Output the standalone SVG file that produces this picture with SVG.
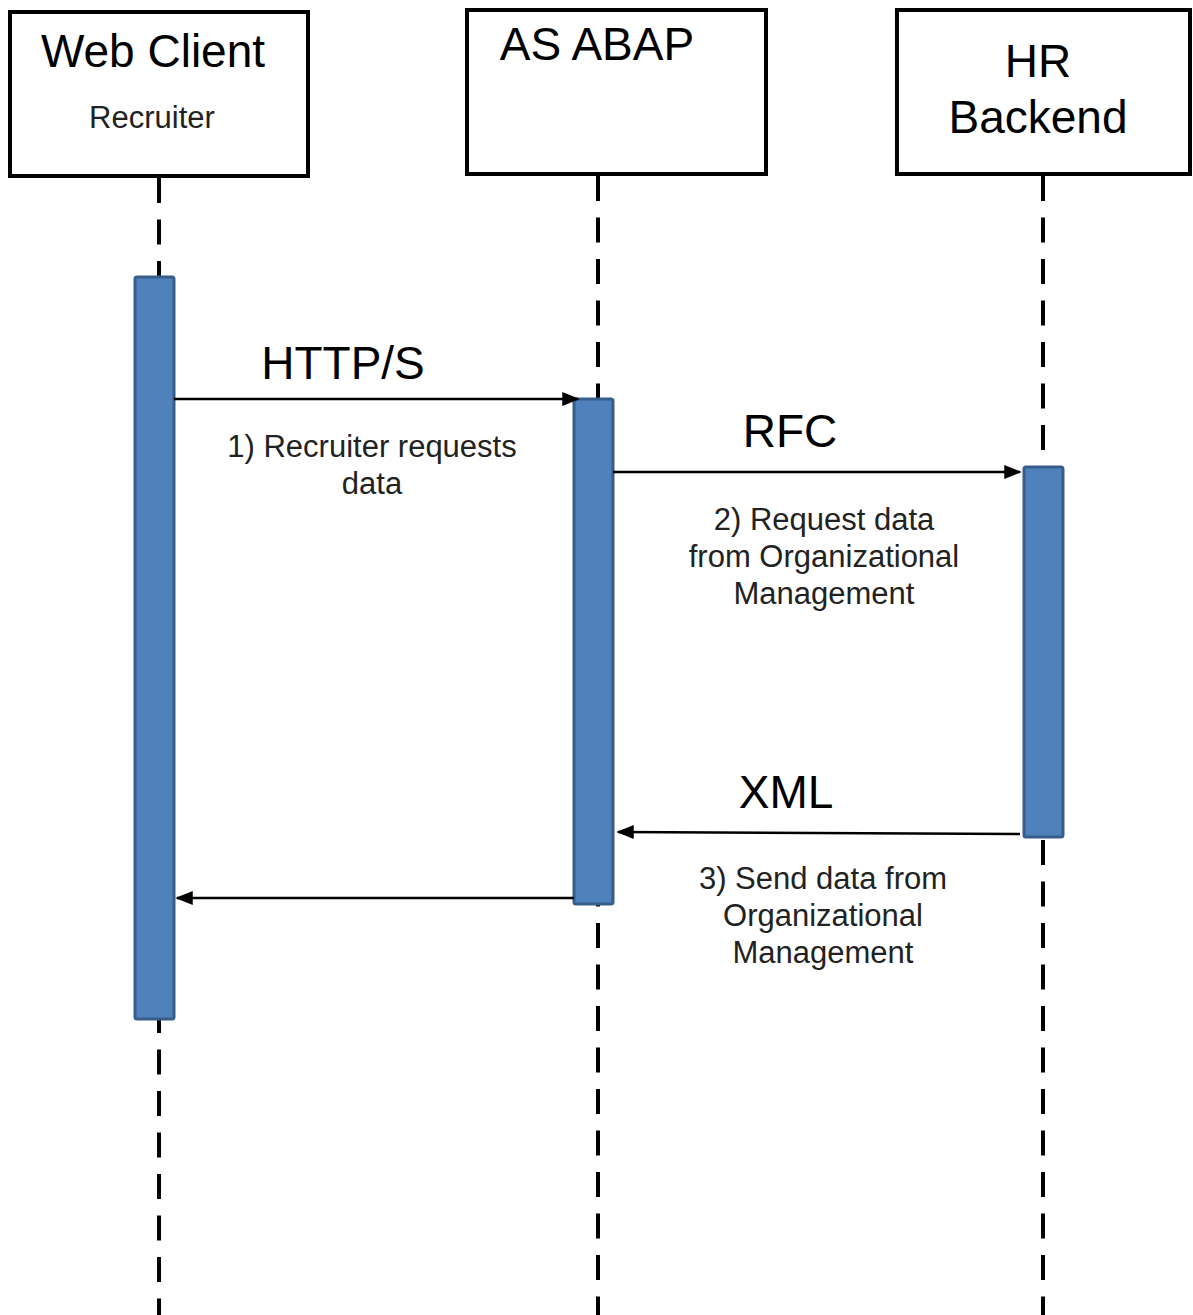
<svg xmlns="http://www.w3.org/2000/svg" width="1193" height="1315" viewBox="0 0 1193 1315">
<defs>
<style>
.box{fill:#fff;stroke:#000;stroke-width:4}
.life{stroke:#000;stroke-width:4;stroke-dasharray:25 16.5;fill:none}
.act{fill:#4F81BD;stroke:#385D8A;stroke-width:3}
.msg{stroke:#000;stroke-width:2.5;fill:none;marker-end:url(#ah)}
.big{font-family:"Liberation Sans",Arial,sans-serif;font-size:46px;fill:#000;text-anchor:middle}
.small{font-family:"Liberation Sans",Arial,sans-serif;font-size:31px;fill:#222;text-anchor:middle}
</style>
<marker id="ah" viewBox="0 0 10 10" refX="9" refY="5" markerWidth="7" markerHeight="7" orient="auto" markerUnits="strokeWidth">
<path d="M0,1 L10,5 L0,9 Z" fill="#000"/>
</marker>
</defs>
<rect width="1193" height="1315" fill="#fff"/>
<g id="lifelines">
<line class="life" x1="159" y1="178" x2="159" y2="1315"/>
<line class="life" x1="598" y1="176" x2="598" y2="1315"/>
<line class="life" x1="1043" y1="176" x2="1043" y2="1315"/>
</g>
<g id="web-client">
<rect class="box" x="10" y="12" width="298" height="164"/>
<text class="big" x="153" y="67">Web Client</text>
<text class="small" x="152" y="128">Recruiter</text>
</g>
<g id="as-abap">
<rect class="box" x="467" y="10" width="299" height="164"/>
<text class="big" x="597" y="60">AS ABAP</text>
</g>
<g id="hr-backend">
<rect class="box" x="897" y="10" width="293" height="164"/>
<text class="big" x="1038" y="77">HR</text>
<text class="big" x="1038" y="133">Backend</text>
</g>
<g id="activations">
<rect class="act" x="135" y="277" width="39" height="742" rx="2"/>
<rect class="act" x="574" y="399" width="39" height="505" rx="2"/>
<rect class="act" x="1024" y="467" width="39" height="370" rx="2"/>
</g>
<g id="connectors">
<line class="msg" x1="174" y1="399" x2="578" y2="399"/>
<line class="msg" x1="613" y1="472" x2="1020" y2="472"/>
<line class="msg" x1="1020" y1="834" x2="618" y2="832"/>
<line class="msg" x1="574" y1="898" x2="177" y2="898"/>
</g>
<g id="labels">
<text class="big" x="343" y="379">HTTP/S</text>
<text class="small" x="372" y="457">1) Recruiter requests</text>
<text class="small" x="372" y="494">data</text>
<text class="big" x="790" y="447">RFC</text>
<text class="small" x="824" y="530">2) Request data</text>
<text class="small" x="824" y="567">from Organizational</text>
<text class="small" x="824" y="604">Management</text>
<text class="big" x="786" y="808">XML</text>
<text class="small" x="823" y="889">3) Send data from</text>
<text class="small" x="823" y="926">Organizational</text>
<text class="small" x="823" y="963">Management</text>
</g>
</svg>
